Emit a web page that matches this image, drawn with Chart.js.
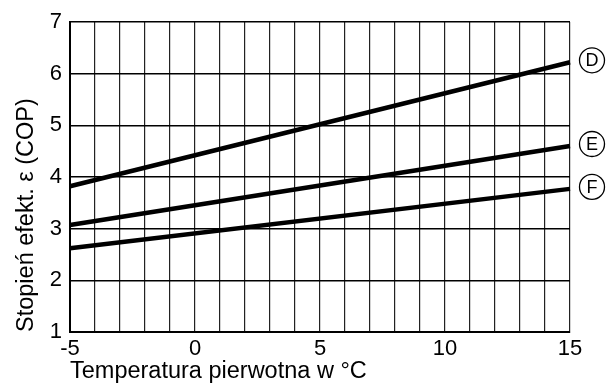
<!DOCTYPE html>
<html>
<head>
<meta charset="utf-8">
<script src="https://cdn.jsdelivr.net/npm/chart.js@4"></script>
<style>
  html, body { margin: 0; padding: 0; background: #fff; }
  #wrap { width: 607px; height: 390px; position: relative; }
</style>
</head>
<body>
<div id="wrap"><canvas id="copChart"></canvas></div>
<script>
// Chart data
const temps = [-5, 15];
const seriesNames = ['D', 'E', 'F'];
const copD = [3.82, 6.22];
const copE = [3.07, 4.6];
const copF = [2.62, 3.77];
const xTickLabels = [-5, 0, 5, 10, 15];
const yTickLabels = [1, 2, 3, 4, 5, 6, 7];

const FONT = "'Liberation Sans', Arial, sans-serif";

// circled letters at the right end of each line
const circleLabels = {
    id: 'circleLabels',
    afterDatasetsDraw(chart) {
        const ctx = chart.ctx;
        const area = chart.chartArea;
        chart.data.datasets.forEach((ds, i) => {
            const pts = chart.getDatasetMeta(i).data;
            const last = pts[pts.length - 1];
            const cx = area.right + 22;
            const cy = last.y - 2;
            ctx.save();
            ctx.beginPath();
            ctx.arc(cx, cy, 12.5, 0, Math.PI * 2);
            ctx.lineWidth = 1.3;
            ctx.strokeStyle = '#000';
            ctx.stroke();
            ctx.fillStyle = '#000';
            ctx.font = '18px ' + FONT;
            ctx.textAlign = 'center';
            ctx.textBaseline = 'middle';
            ctx.fillText(ds.label, cx, cy + 1);
            ctx.restore();
        });
    }
};

const makeSet = (name, vals) => ({
    label: name,
    data: temps.map((t, i) => ({ x: t, y: vals[i] })),
    borderColor: '#000',
    borderWidth: 4.5,
    pointRadius: 0,
    fill: false,
    tension: 0,
    clip: false
});

new Chart(document.getElementById('copChart'), {
    type: 'line',
    data: {
        datasets: [
            makeSet(seriesNames[0], copD),
            makeSet(seriesNames[1], copE),
            makeSet(seriesNames[2], copF)
        ]
    },
    plugins: [circleLabels],
    options: {
        responsive: true,
        maintainAspectRatio: false,
        animation: false,
        layout: { padding: { top: 22, right: 37, left: 0, bottom: 0 } },
        plugins: {
            legend: { display: false },
            tooltip: { enabled: false }
        },
        scales: {
            x: {
                type: 'linear',
                min: -5,
                max: 15,
                afterBuildTicks: s => { s.ticks = []; for (let v = -5; v <= 15; v++) s.ticks.push({ value: v }); },
                afterFit: s => { s.height = 58; },
                ticks: {
                    autoSkip: false,
                    maxRotation: 0,
                    color: '#000',
                    padding: 4,
                    font: { family: FONT, size: 22 },
                    callback: v => xTickLabels.includes(v) ? String(v) : ''
                },
                grid: { color: '#222', lineWidth: 1.2, drawTicks: false },
                border: { color: '#000', width: 2 },
                title: {
                    display: true,
                    text: 'Temperatura pierwotna w °C',
                    color: '#000',
                    align: 'start',
                    font: { family: FONT, size: 23.5 },
                    padding: { top: 0, bottom: 4 }
                }
            },
            y: {
                min: 1,
                max: 7,
                afterBuildTicks: s => { s.ticks = yTickLabels.map(v => ({ value: v })); },
                afterFit: s => { s.width = 70; },
                ticks: {
                    color: '#000',
                    padding: 8,
                    font: { family: FONT, size: 22 }
                },
                grid: { color: '#000', lineWidth: 1.6, drawTicks: false },
                border: { color: '#000', width: 2 },
                title: {
                    display: true,
                    text: 'Stopień efekt. ε (COP)',
                    color: '#000',
                    align: 'start',
                    font: { family: FONT, size: 23.5 },
                    padding: { top: 12, bottom: 0 }
                }
            }
        }
    }
});
</script>
</body>
</html>
